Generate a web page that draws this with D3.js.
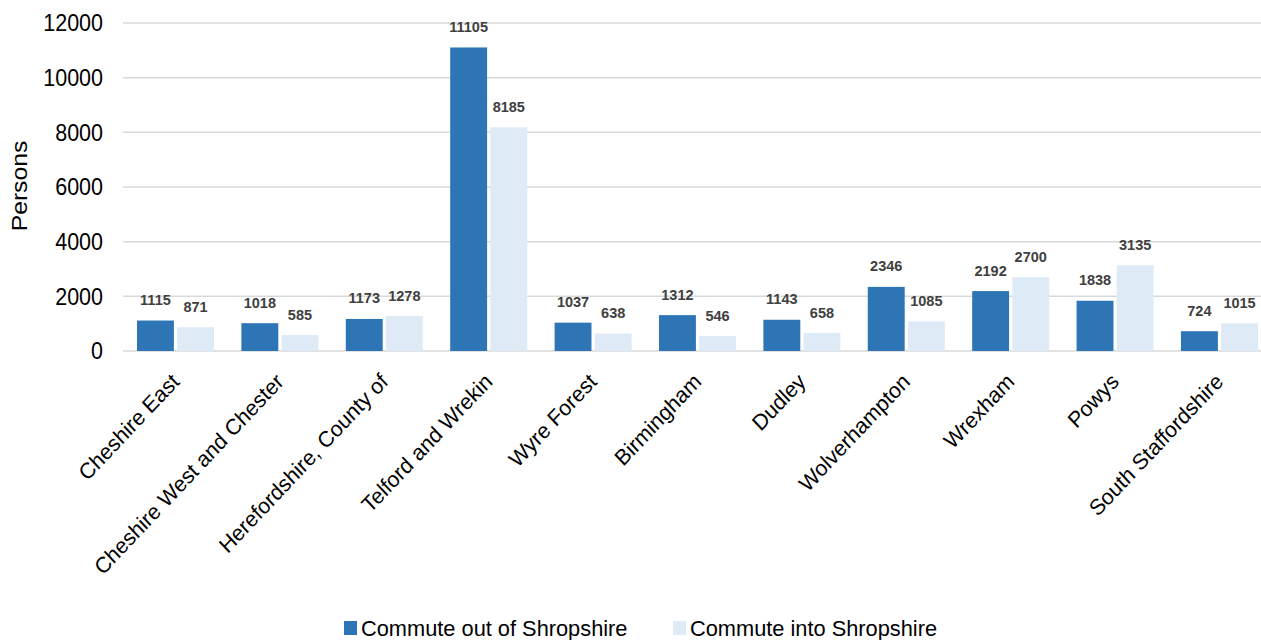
<!DOCTYPE html>
<html>
<head>
<meta charset="utf-8">
<script src="https://cdn.jsdelivr.net/npm/d3@7"></script>
<style>
  html, body { margin: 0; padding: 0; background: #fff; }
  svg { display: block; font-family: "Liberation Sans", Arial, sans-serif; }
</style>
</head>
<body>
<svg id="chart" width="1261" height="640"></svg>
<script>
// Commuting flows between Shropshire and neighbouring authorities
const categories = [
  "Cheshire East", "Cheshire West and Chester", "Herefordshire, County of",
  "Telford and Wrekin", "Wyre Forest", "Birmingham", "Dudley",
  "Wolverhampton", "Wrexham", "Powys", "South Staffordshire"
];
const commuteOut = [1115, 1018, 1173, 11105, 1037, 1312, 1143, 2346, 2192, 1838, 724];
const commuteIn  = [871, 585, 1278, 8185, 638, 546, 658, 1085, 2700, 3135, 1015];
const seriesNames = ["Commute out of Shropshire", "Commute into Shropshire"];
const yTicks = [0, 2000, 4000, 6000, 8000, 10000, 12000];

const colors = ["#2E75B6", "#DEEBF7"];
const svg = d3.select("#chart");
const plot = { left: 123, right: 1261, top: 23, bottom: 351 };
const stretch = 1.1; // text is drawn slightly tall

const x = d3.scaleBand().domain(categories).range([plot.left, 1272])
  .paddingInner(0.262).paddingOuter(0.134);
const xs = d3.scaleBand().domain([0, 1]).range([0, x.bandwidth()]).paddingInner(0.08);
const y = d3.scaleLinear().domain([0, 12000]).range([plot.bottom, plot.top]);

// Gridlines
svg.append("g").selectAll("line").data(yTicks).join("line")
  .attr("x1", plot.left).attr("x2", plot.right)
  .attr("y1", d => y(d)).attr("y2", d => y(d))
  .attr("stroke", "#d9d9d9").attr("stroke-width", 1.5);

// Y axis labels
const yAxis = svg.append("g").attr("transform", `translate(${plot.left - 20},0)`)
  .call(d3.axisLeft(y).tickValues(yTicks).tickSize(0).tickPadding(0).tickFormat(d3.format("d")));
yAxis.select(".domain").remove();
yAxis.selectAll(".tick").attr("transform", d => `translate(0,${y(d)})`);
yAxis.selectAll(".tick text")
  .attr("font-size", 21.5).attr("fill", "#000")
  .attr("font-family", "Liberation Sans, Arial, sans-serif")
  .attr("x", 0).attr("y", 0).attr("dy", "0.35em")
  .attr("transform", `scale(1,${stretch})`);

svg.append("text")
  .attr("transform", `translate(27,186) scale(1,${stretch}) rotate(-90)`)
  .attr("text-anchor", "middle").attr("font-size", 22.5).attr("fill", "#000").text("Persons");

// Bars
const rows = categories.map((c, i) => ({ c, vals: [commuteOut[i], commuteIn[i]] }));
const groups = svg.append("g").selectAll("g").data(rows).join("g")
  .attr("transform", d => `translate(${x(d.c)},0)`);
groups.selectAll("rect").data(d => d.vals.map((v, k) => ({ v, k }))).join("rect")
  .attr("x", d => xs(d.k)).attr("width", xs.bandwidth())
  .attr("y", d => y(d.v)).attr("height", d => y(0) - y(d.v))
  .attr("fill", d => colors[d.k]);
groups.selectAll("text.val").data(d => d.vals.map((v, k) => ({ v, k }))).join("text")
  .attr("class", "val")
  .attr("x", d => xs(d.k) + xs.bandwidth() / 2).attr("y", d => y(d.v) - 15.5)
  .attr("text-anchor", "middle").attr("font-size", 14.5).attr("font-weight", "bold")
  .attr("fill", "#404040").text(d => d.v);

// Category labels
svg.append("g").selectAll("text").data(categories).join("text")
  .attr("transform", d => `translate(${x(d) + x.bandwidth() / 2 + 5},${plot.bottom + 32}) scale(1,1.06) rotate(-45)`)
  .attr("text-anchor", "end").attr("font-size", 21).attr("fill", "#000")
  .text(d => d);

// Legend
const legendX = [344, 673];
const lg = svg.append("g").selectAll("g").data(seriesNames).join("g")
  .attr("transform", (d, i) => `translate(${legendX[i]},621)`);
lg.append("rect").attr("width", 13).attr("height", 14).attr("fill", (d, i) => colors[i]);
lg.append("text").attr("transform", `translate(17,15) scale(1,1.05)`)
  .attr("font-size", 21.8).attr("fill", "#000").text(d => d);
</script>
</body>
</html>
